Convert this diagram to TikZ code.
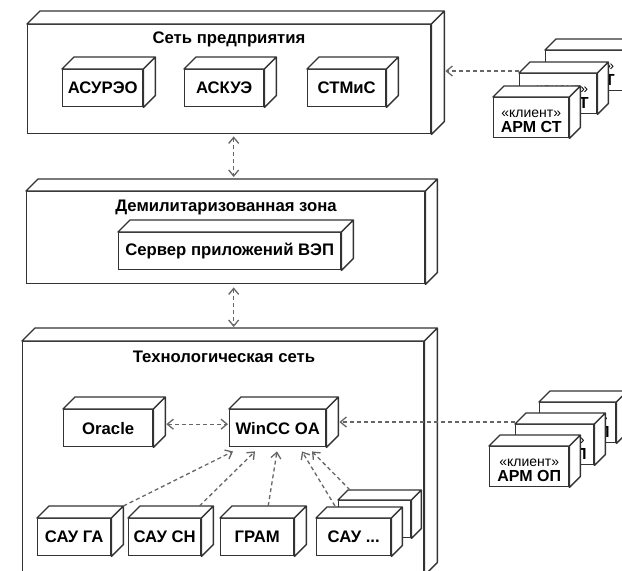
\documentclass[tikz,border=0pt]{standalone}
\usepackage{fontspec}
\setmainfont{Liberation Sans}
\usetikzlibrary{arrows.meta,calc}
\definecolor{lc}{HTML}{333333}
\definecolor{ac}{HTML}{666666}
\tikzset{
  cube/.style={draw=lc, fill=white, line width=1.4pt, inner sep=0pt, anchor=north west,
    font=\fontsize{16.7}{18}\selectfont\bfseries, align=center},
  face/.style={draw=lc, fill=white, line width=1.4pt, line join=round},
  tip/.tip={Straight Barb[length=6pt,width=10pt]},
  dep/.style={draw=ac, line width=1.3pt, dash pattern=on 4pt off 3pt, -tip},
  dep2/.style={draw=ac, line width=1.3pt, dash pattern=on 4pt off 3pt, tip-tip},
  title/.style={font=\fontsize{16.7}{18}\selectfont\bfseries, inner sep=0pt},
}
\newcommand\cubefaces[2]{%
  \filldraw[face] (#1.north west) -- ([xshift=#2pt,yshift=#2pt]#1.north west)
    -- ([xshift=#2pt,yshift=#2pt]#1.north east) -- ([xshift=#2pt,yshift=#2pt]#1.south east)
    -- (#1.south east) -- (#1.north east) -- cycle
    (#1.north east) -- ([xshift=#2pt,yshift=#2pt]#1.north east);}
\newcommand\client[1]{{\fontsize{14}{16}\selectfont\mdseries\rule{0pt}{14pt}«клиент»}\\[-3pt]\fontsize{16}{18}\selectfont #1}
\begin{document}
\begin{tikzpicture}[x=1pt,y=-1pt]
\useasboundingbox (0,0) rectangle (622,571);

% containers
\node[cube, minimum width=403pt, minimum height=109pt] (b1) at (27,24) {};
\cubefaces{b1}{13}
\node[title] (t1) at (229,39) {Сеть предприятия};

\node[cube, minimum width=398pt, minimum height=92pt] (b2) at (26,191) {};
\cubefaces{b2}{12}
\node[title] (t2) at (226,207) {Демилитаризованная зона};

\node[cube, minimum width=401pt, minimum height=233pt] (b3) at (22,341) {};
\cubefaces{b3}{13}
\node[title] (t3) at (224,357) {Технологическая сеть};

% enterprise network
\node[cube, minimum width=80pt, minimum height=37pt] (asu) at (62,69) {АСУРЭО};
\cubefaces{asu}{12}
\node[cube, minimum width=79pt, minimum height=37pt] (ask) at (184,69) {АСКУЭ};
\cubefaces{ask}{12}
\node[cube, minimum width=78pt, minimum height=37pt] (stm) at (307,69) {СТМиС};
\cubefaces{stm}{12}

% DMZ
\node[cube, minimum width=222pt, minimum height=37pt] (srv) at (118,232) {Сервер приложений ВЭП};
\cubefaces{srv}{12}

% technological network
\node[cube, minimum width=89pt, minimum height=37pt] (or) at (63,409) {Oracle};
\cubefaces{or}{12}
\node[cube, minimum width=96pt, minimum height=37pt] (w) at (229,409) {WinCC OA};
\cubefaces{w}{12}
\node[cube, minimum width=73pt, minimum height=37pt] (sga) at (37,518) {САУ ГА};
\cubefaces{sga}{12}
\node[cube, minimum width=72pt, minimum height=37pt] (sch) at (128,518) {САУ СН};
\cubefaces{sch}{12}
\node[cube, minimum width=73pt, minimum height=37pt] (gram) at (220,518) {ГРАМ};
\cubefaces{gram}{12}
\node[cube, minimum width=72pt, minimum height=37pt] (s5) at (338,500) {};
\cubefaces{s5}{10}
\node[cube, minimum width=74pt, minimum height=37pt] (s4) at (316,518) {САУ ...};
\cubefaces{s4}{11}

% clients (top)
\node[cube, minimum width=77pt, minimum height=40pt] (c3) at (545,50) {\client{АРМ СТ}};
\cubefaces{c3}{11}
\node[cube, minimum width=77pt, minimum height=40pt] (c2) at (519,73) {\client{АРМ СТ}};
\cubefaces{c2}{11}
\node[cube, minimum width=75pt, minimum height=40pt] (c1) at (493,97) {\client{АРМ СТ}};
\cubefaces{c1}{11}

% clients (bottom)
\node[cube, minimum width=76pt, minimum height=40pt] (o3) at (539,402) {\client{АРМ ОП}};
\cubefaces{o3}{11}
\node[cube, minimum width=78pt, minimum height=40pt] (o2) at (515,424) {\client{АРМ ОП}};
\cubefaces{o2}{11}
\node[cube, minimum width=79pt, minimum height=40pt] (o1) at (489,446) {\client{АРМ ОП}};
\cubefaces{o1}{11}

% connectors
\coordinate (a1) at ([xshift=4.5pt,yshift=-2pt]b1.south);
\coordinate (b2t) at ([yshift=14pt]b2.north);
\draw[dep2] (a1) -- (a1 |- b2t);
\coordinate (a2) at ([xshift=8pt,yshift=-3pt]b2.south);
\coordinate (b3t) at ([yshift=14pt]b3.north);
\draw[dep2] (a2) -- (a2 |- b3t);

\coordinate (b1r) at ([xshift=14pt]b1.east);
\coordinate (c2s) at ([yshift=2pt]c2.north west);
\draw[dep] (c2s) -- (c2s -| b1r);

\coordinate (wr) at ([xshift=13pt]w.east);
\coordinate (o2s) at ([yshift=2pt]o2.north west);
\draw[dep] (o2s) -- (o2s -| wr);

\draw[dep2] ([xshift=13pt,yshift=4pt]or.east) -- ([xshift=-1pt,yshift=4pt]w.west);

\draw[dep] ([xshift=12pt,yshift=12pt]sga.north east) -- ([xshift=4pt,yshift=-4pt]w.south west);
\draw[dep] ([xshift=-2pt,yshift=12pt]sch.north east) -- ([xshift=26pt,yshift=-4pt]w.south west);
\draw[dep] ([xshift=11pt,yshift=12pt]gram.north) -- ([xshift=48pt,yshift=-4pt]w.south west);
\draw[dep] ([xshift=19pt,yshift=12pt]s4.north west) -- ([xshift=73pt,yshift=-4pt]w.south west);
\draw[dep] ([xshift=12pt,yshift=10pt]s5.north west) -- ([xshift=83pt,yshift=-4pt]w.south west);
\end{tikzpicture}
\end{document}
